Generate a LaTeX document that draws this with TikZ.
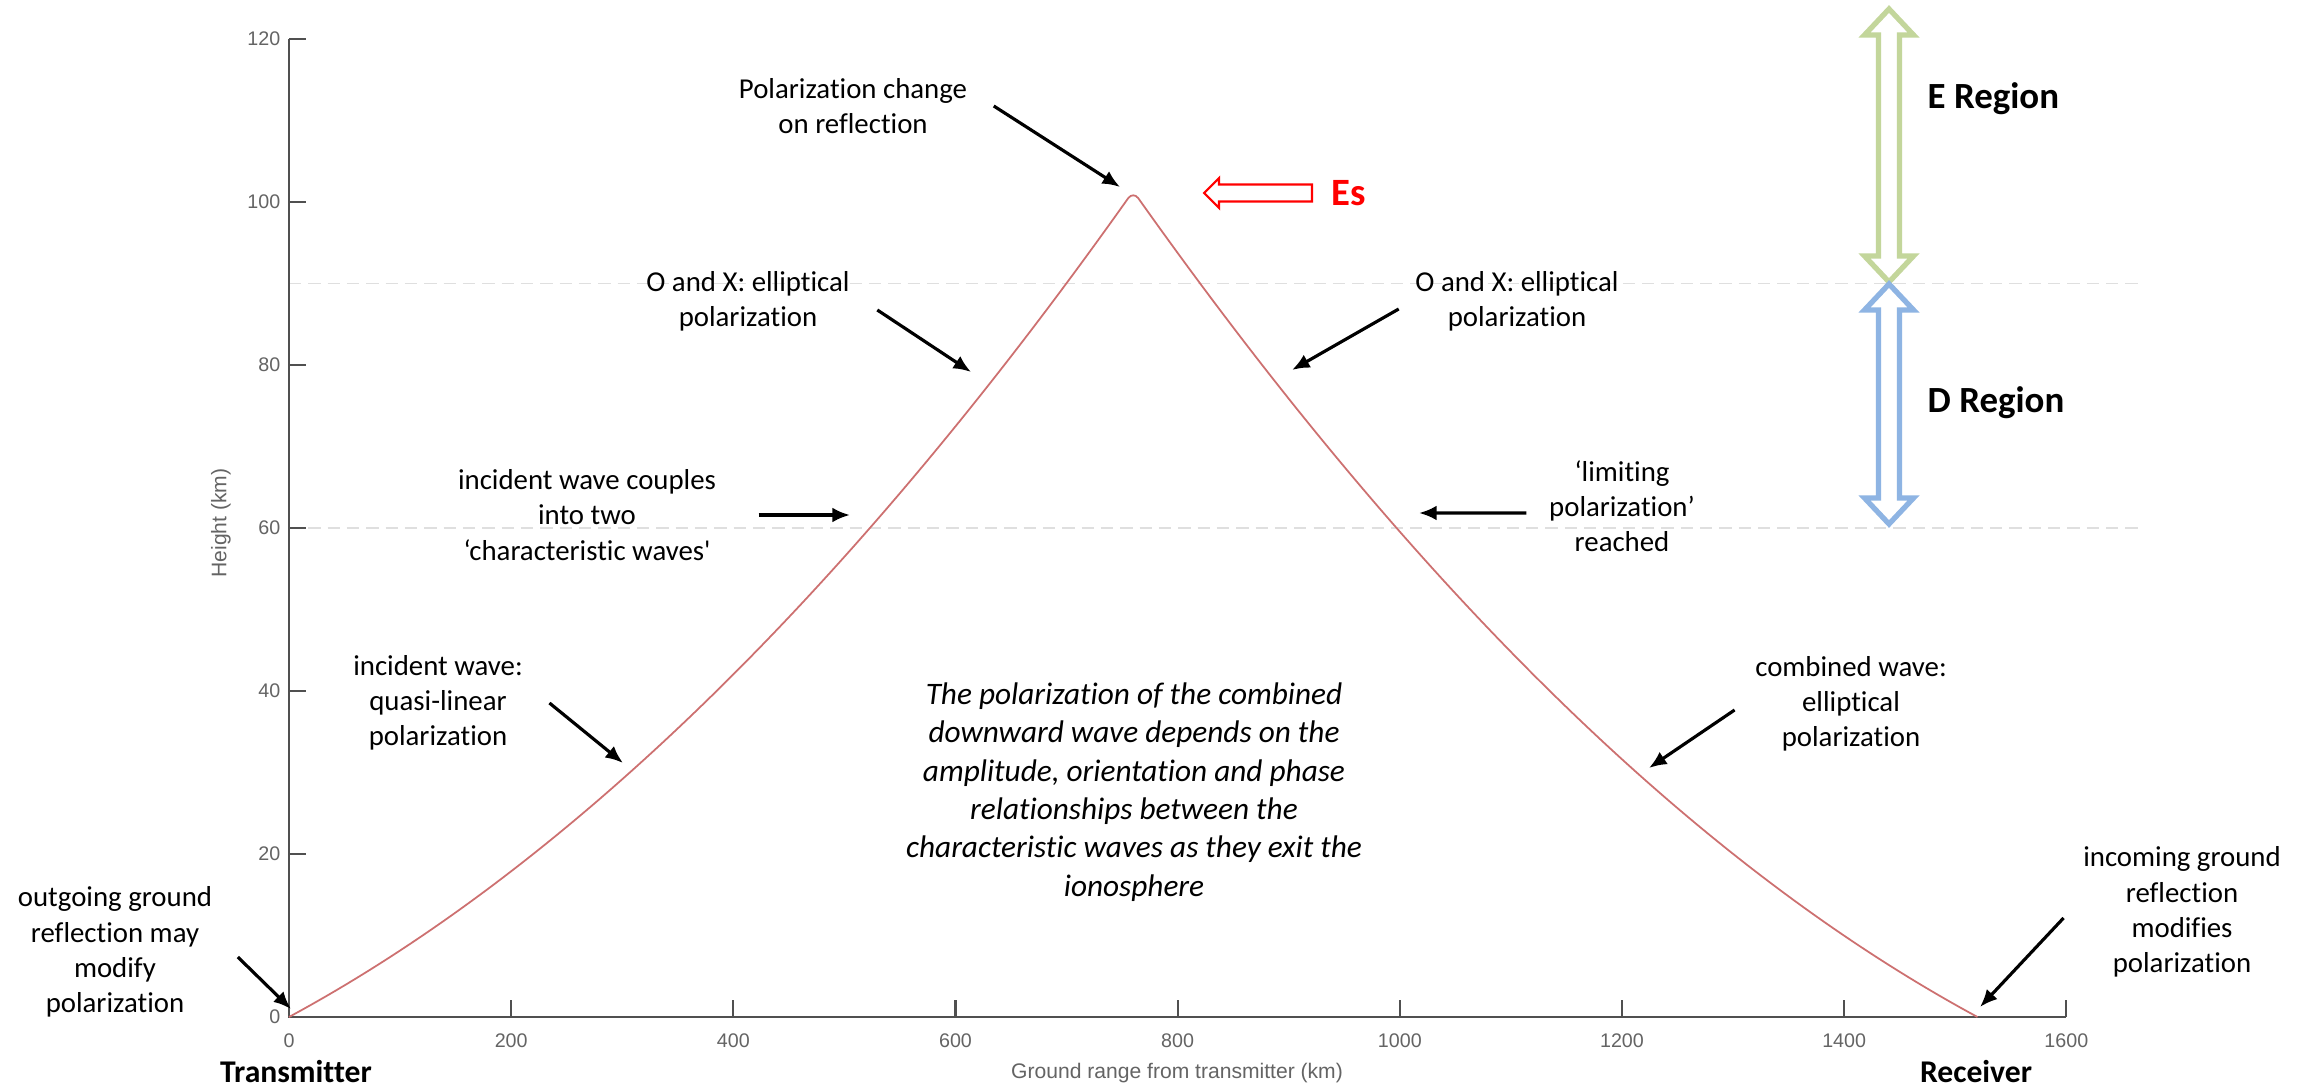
\documentclass[tikz,border=0pt]{standalone}
\usepackage{fontspec}
\setmainfont{Carlito}[Ligatures={TeX,NoCommon}]
\newfontfamily\plotfont{Liberation Sans}
\usetikzlibrary{arrows.meta,positioning}
\definecolor{raycol}{RGB}{205,112,112}
\definecolor{axiscol}{RGB}{80,80,80}
\definecolor{labcol}{RGB}{100,100,100}
\definecolor{egreen}{RGB}{195,214,155}
\definecolor{dblue}{RGB}{142,180,227}
\tikzstyle{note} = [font=\fontsize{8.2}{10}\selectfont, align=center, inner sep=0pt]
\tikzstyle{bignote} = [font=\fontsize{8.9}{10.9}\selectfont\itshape, align=center, inner sep=0pt]
\tikzstyle{region} = [font=\fontsize{10.5}{12}\selectfont\bfseries, anchor=west, inner sep=0pt]
\tikzstyle{site} = [font=\fontsize{9}{11}\selectfont\bfseries, inner sep=0pt]
\tikzstyle{ticklab} = [font=\plotfont\fontsize{5.6}{6.5}\selectfont, text=labcol, inner sep=0pt]
\tikzstyle{axtitle} = [font=\plotfont\fontsize{6}{7}\selectfont, text=labcol, inner sep=0pt]
\tikzstyle{pointer} = [-{Latex[length=5pt,width=4.2pt]}, line width=0.9pt]
\tikzstyle{guide} = [gray!25, line width=0.4pt, dash pattern=on 3.5pt off 2pt]
\tikzstyle{ray} = [raycol, line width=0.5pt]
\tikzstyle{layerbox} = [line width=1.5pt, fill=white, line join=miter]
\tikzset{>=latex}

\begin{document}
\begin{tikzpicture}
  \useasboundingbox (0,0) rectangle (23.10,10.88);
  \fill[white] (0,0) rectangle (23.10,10.88);

  \begin{scope}[shift={(2.89,0.71)}, x=0.011115cm, y=0.0815cm]
    \draw[guide] (0,90) -- (1665,90);
    \draw[guide] (0,60) -- (1665,60);
    \draw[axiscol, line width=0.6pt] (0,120) -- (0,0) -- (1600,0);
    \foreach \h in {0,20,...,120} {
      \draw[axiscol, line width=0.6pt] (0,\h) -- ++(0.17cm,0);
      \node[ticklab, anchor=east, xshift=-0.8mm] (yl\h) at (0,\h) {\h};
    }
    \foreach \d in {0,200,...,1600} {
      \draw[axiscol, line width=0.6pt] (\d,0) -- ++(0,0.17cm);
      \node[ticklab, anchor=north, yshift=-1.6mm] (xl\d) at (\d,0) {\d};
    }
    \draw[ray, rounded corners=2.5pt] plot[domain=0:1520, samples=161]
      (\x, {0.0737*min(\x,1520-\x) + 0.7848*(min(\x,1520-\x)/100)^2});
  \end{scope}

  \node[axtitle, rotate=90] (ytitle) at (2.21,5.65) {Height (km)};
  \node[axtitle] (xtitle) at (11.77,0.15) {Ground range from transmitter (km)};

  \node[note] (pol) at (8.53,9.82) {Polarization change\\on reflection};
  \node[note] (oxl) at (7.48,7.87) {O and X: elliptical\\polarization};
  \node[note] (oxr) at (15.17,7.87) {O and X: elliptical\\polarization};
  \node[note] (couple) at (5.87,5.73) {incident wave couples\\into two\\‘characteristic waves\textquotesingle};
  \node[note] (limit) at (16.22,5.82) {‘limiting\\polarization’\\reached};
  \node[note] (quasi) at (4.38,3.85) {incident wave:\\quasi-linear\\polarization};
  \node[note] (comb) at (18.51,3.84) {combined wave:\\elliptical\\polarization};
  \node[note] (outgo) at (1.15,1.36) {outgoing ground\\reflection may\\modify\\polarization};
  \node[note] (incom) at (21.82,1.76) {incoming ground\\reflection\\modifies\\polarization};
  \node[bignote] (expl) at (11.34,2.96) {The polarization of the combined\\downward wave depends on the\\amplitude, orientation and phase\\relationships between the\\characteristic waves as they exit the\\ionosphere};
  \node[site] (tx) at (2.96,0.16) {Transmitter};
  \node[site] (rx) at (19.76,0.16) {Receiver};
  \node[region] (ereg) at (19.27,9.89) {E Region};
  \node[region] (dreg) at (19.27,6.85) {D Region};
  \node[font=\fontsize{11}{13}\selectfont\bfseries, text=red, inner sep=0pt] (es) at (13.49,8.95) {Es};

  \coordinate (apex) at (11.20,9.01);
  \coordinate (oxlT) at (9.71,7.16);
  \coordinate (oxrT) at (12.92,7.18);
  \coordinate (coupleT) at (8.50,5.73);
  \coordinate (limitT) at (14.19,5.75);
  \coordinate (quasiT) at (6.23,3.25);
  \coordinate (combT) at (16.49,3.20);
  \coordinate (outgoT) at (2.91,0.79);
  \coordinate (incomT) at (19.80,0.81);

  \draw[pointer] ([xshift=2.6mm]pol.east) -- (apex);
  \draw[pointer] ([xshift=2.7mm,yshift=-0.9mm]oxl.east) -- (oxlT);
  \draw[pointer] ([xshift=-1.6mm,yshift=-0.8mm]oxr.west) -- (oxrT);
  \draw[pointer] ([xshift=4.2mm]couple.east) -- (coupleT);
  \draw[pointer] ([xshift=-2.2mm,yshift=-0.7mm]limit.west) -- (limitT);
  \draw[pointer] ([xshift=2.6mm]quasi.east) -- (quasiT);
  \draw[pointer] ([xshift=-2mm,yshift=-0.6mm]comb.west) -- (combT);
  \draw[pointer] ([xshift=2.5mm,yshift=-0.5mm]outgo.east) -- (outgoT);
  \draw[pointer] ([xshift=-1.9mm,yshift=-0.6mm]incom.west) -- (incomT);

  \draw[red, line width=0.6pt, fill=white] (12.04,8.95) -- (12.19,9.10) -- (12.19,9.035) -- (13.12,9.035)
    -- (13.12,8.865) -- (12.19,8.865) -- (12.19,8.80) -- cycle;
  \draw[layerbox, draw=egreen] (18.89,10.79) -- (19.135,10.53) -- (18.995,10.53) -- (18.995,8.32) -- (19.135,8.32)
    -- (18.89,8.06) -- (18.645,8.32) -- (18.785,8.32) -- (18.785,10.53) -- (18.645,10.53) -- cycle;
  \draw[layerbox, draw=dblue] (18.89,8.04) -- (19.135,7.78) -- (18.995,7.78) -- (18.995,5.90) -- (19.135,5.90)
    -- (18.89,5.64) -- (18.645,5.90) -- (18.785,5.90) -- (18.785,7.78) -- (18.645,7.78) -- cycle;
\end{tikzpicture}
\end{document}
